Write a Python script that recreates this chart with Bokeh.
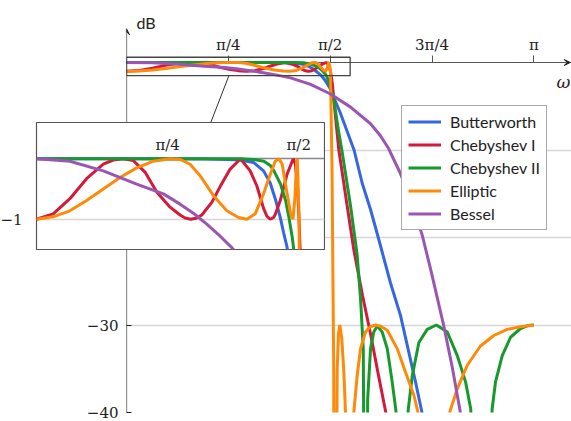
import math
from bokeh.plotting import figure
from bokeh.models import (ColumnDataSource, FixedTicker, LinearAxis, Grid, Range1d,
                          Legend, LegendItem, Label, Arrow, VeeHead)
from bokeh.layouts import column
from bokeh.embed import file_html
from bokeh.resources import INLINE

PI = math.pi

# ---------------- data ----------------
names = ["Butterworth", "Chebyshev I", "Chebyshev II", "Elliptic", "Bessel"]
colors = ["#3567e0", "#d41a3c", "#17992b", "#ff8a0a", "#9b56b2"]

butter_w = [0.0, 0.5, 1.0, 1.15, 1.22, 1.30, 1.36, 1.40, 1.43, 1.46, 1.48, 1.50, 1.53,
            1.571, 1.61, 1.65, 1.70, 1.755, 1.818, 1.882, 1.938, 2.036, 2.113, 2.229, 2.30]
butter_db = [0.0, 0.0, -0.002, -0.01, -0.02, -0.06, -0.2, -0.4, -0.66, -0.97, -1.22, -1.45, -2.0,
             -3.0, -4.4, -5.8, -7.8, -10.0, -13.8, -16.8, -19.8, -25.2, -28.9, -36.5, -41.5]

cheb1_w = [0.0, 0.1, 0.2, 0.3, 0.4, 0.46, 0.52, 0.58, 0.65, 0.72, 0.8, 0.86, 0.89, 0.925, 0.96,
           0.99, 1.05, 1.10, 1.16, 1.222, 1.28, 1.32, 1.36, 1.38, 1.40, 1.42, 1.43, 1.46, 1.50,
           1.538, 1.550, 1.562, 1.572, 1.578, 1.587, 1.612, 1.6375, 1.70, 1.753, 1.82, 1.882,
           1.94, 2.0, 2.02]
cheb1_db = [-1.0, -0.91, -0.66, -0.33, -0.09, -0.02, 0.0, -0.03, -0.22, -0.55, -0.80, -0.93,
            -0.98, -1.0, -0.98, -0.93, -0.72, -0.46, -0.17, 0.0, -0.2, -0.45, -0.82, -0.95,
            -1.0, -0.97, -0.92, -0.69, -0.26, 0.0, -0.08, -0.42, -0.97, -1.43, -2.4, -6.2,
            -10.0, -16.2, -21.4, -26.6, -31.0, -35.5, -40.0, -41.5]

cheb2_w = [0.0, 0.8, 1.1, 1.22, 1.30, 1.362, 1.40, 1.422, 1.462, 1.492, 1.512, 1.532, 1.545,
           1.56, 1.599, 1.638, 1.664, 1.728, 1.779, 1.805, 1.826, 1.845, 1.86, 1.882, 1.907,
           1.934, 1.972, 2.011, 2.049, 2.078, 2.127, 2.172, 2.204, 2.255, 2.319, 2.39, 2.474,
           2.551, 2.615, 2.655, 2.74, 2.82, 2.846, 2.898, 2.962, 3.039, 3.10, 3.1416]
cheb2_db = [0.0, 0.0, 0.0, 0.0, -0.01, -0.04, -0.11, -0.2, -0.42, -0.69, -0.97, -1.3, -1.6,
            -2.2, -4.3, -8.1, -10.3, -16.4, -22.0, -27.0, -32.7, -80.0, -38.5, -32.7, -30.8,
            -30.1, -30.8, -32.7, -36.5, -39.8, -80.0, -39.8, -35.8, -32.0, -30.5, -30.0, -30.8,
            -33.5, -36.5, -39.6, -80.0, -39.6, -36.5, -33.5, -31.4, -30.4, -30.05, -30.0]

ellip_w = [0.0, 0.1, 0.2, 0.3, 0.4, 0.5, 0.6, 0.7, 0.8, 0.86, 0.92, 0.98, 1.06, 1.14, 1.21,
           1.26, 1.31, 1.36, 1.40, 1.43, 1.452, 1.472, 1.498, 1.522, 1.536, 1.548, 1.558,
           1.562, 1.567, 1.573, 1.585, 1.598, 1.607, 1.625, 1.635, 1.645, 1.66, 1.675, 1.689,
           1.72, 1.753, 1.779, 1.805, 1.843, 1.88, 1.921, 1.96, 2.011, 2.088, 2.152, 2.216,
           2.247, 2.37, 2.494, 2.551, 2.628, 2.73, 2.833, 2.936, 3.039, 3.1416]
ellip_db = [-1.0, -0.96, -0.86, -0.69, -0.50, -0.31, -0.15, -0.04, 0.0, -0.01, -0.09, -0.28,
            -0.61, -0.86, -0.97, -1.0, -0.91, -0.58, -0.26, -0.04, 0.0, -0.09, -0.53, -0.91,
            -1.0, -0.64, -0.04, 0.0, -0.42, -1.0, -12.0, -35.0, -80.0, -35.0, -31.0, -30.0,
            -31.5, -35.0, -40.0, -80.0, -40.0, -35.8, -32.7, -30.8, -30.2, -30.0, -30.15,
            -30.6, -32.7, -35.4, -38.0, -39.9, -80.0, -39.9, -37.3, -34.6, -32.4, -31.2,
            -30.5, -30.2, -30.0]

bessel_w = [0.0, 0.2, 0.4, 0.6, 0.76, 0.86, 0.94, 1.02, 1.10, 1.17, 1.265, 1.42, 1.573, 1.728,
            1.882, 1.96, 2.02, 2.11, 2.20, 2.28, 2.35, 2.447, 2.512, 2.575, 2.60]
bessel_db = [0.0, -0.04, -0.2, -0.42, -0.58, -0.75, -0.9, -1.08, -1.28, -1.47, -1.76, -2.5,
             -3.6, -5.1, -7.0, -8.4, -9.8, -12.6, -16.0, -19.7, -23.9, -30.1, -34.8, -40.0,
             -42.0]

x_ticks = [PI / 4, PI / 2, 3 * PI / 4, PI]
x_tick_labels = ["π/4", "π/2", "3π/4", "π"]
y_ticks = [-40, -30, -20, -10]
y_tick_labels = ["−40", "−30", "−20", "−10"]
inset_x_ticks = [PI / 4, PI / 2]
inset_x_tick_labels = ["π/4", "π/2"]
inset_y_ticks = [-1]
inset_y_tick_labels = ["−1"]

# ---------------- view settings ----------------
X_MAX = 3.432
Y_MIN = -40.0
ZERO_PX, BOTTOM_PX = 62.0, 412.0
Y_MAX = ZERO_PX * 40.0 / (BOTTOM_PX - ZERO_PX)
Y_ARROW_TOP = 3.86
ZOOM_X = (0.0, 1.725)
ZOOM_Y = (-1.5, 0.6)
SERIF = "DejaVu Serif"
SANS = "Lato"
AX = "#555555"
TXT = "#222222"
GRID = "#d6d6d6"
TICK_SIZE = "15px"
INSET_BORDER_LEFT = 60
INSET_FRAME_LEFT = 36

series = [
    (names[0], butter_w, butter_db, colors[0]),
    (names[1], cheb1_w, cheb1_db, colors[1]),
    (names[2], cheb2_w, cheb2_db, colors[2]),
    (names[3], ellip_w, ellip_db, colors[3]),
    (names[4], bessel_w, bessel_db, colors[4]),
]
sources = [ColumnDataSource(dict(w=w, db=d)) for _, w, d, _ in series]

# ---------------- main plot ----------------
p = figure(width=571, height=421, output_backend="svg", toolbar_location=None,
           x_axis_type=None, y_axis_type=None,
           x_range=Range1d(0, X_MAX), y_range=Range1d(Y_MIN, Y_MAX),
           min_border_left=126, min_border_right=0, min_border_top=0,
           min_border_bottom=int(421 - BOTTOM_PX))
p.outline_line_color = None
p.background_fill_color = "white"
p.border_fill_color = "white"

p.add_layout(Grid(dimension=1, ticker=FixedTicker(ticks=y_ticks),
                  grid_line_color=GRID, grid_line_width=1.3))

yax = LinearAxis(ticker=FixedTicker(ticks=y_ticks),
                 major_label_overrides=dict(zip(y_ticks, y_tick_labels)),
                 axis_line_color=None, major_tick_in=5, major_tick_out=0,
                 major_tick_line_color=TXT, minor_tick_line_color=None,
                 major_label_standoff=8, major_label_text_font=SERIF,
                 major_label_text_font_size=TICK_SIZE, major_label_text_color=TXT)
p.add_layout(yax, "left")

xax = LinearAxis(fixed_location=0, ticker=FixedTicker(ticks=x_ticks),
                 major_label_overrides=dict(zip(x_ticks, x_tick_labels)),
                 axis_line_color=AX, axis_line_width=1, major_tick_in=0, major_tick_out=7,
                 major_tick_line_color=AX, minor_tick_line_color=None,
                 major_label_standoff=2, major_label_text_font=SERIF,
                 major_label_text_font_size=TICK_SIZE, major_label_text_color=TXT)
xax.level = "underlay"
p.add_layout(xax, "above")

p.add_layout(Arrow(x_start=0, y_start=Y_MIN, x_end=0, y_end=Y_ARROW_TOP,
                   line_color=TXT, line_width=1.2,
                   end=VeeHead(size=6, line_color=TXT, fill_color=TXT, line_width=1)))
p.add_layout(Arrow(x_start=3.0, y_start=0, x_end=X_MAX - 0.01, y_end=0,
                   line_color=AX, line_width=1,
                   end=VeeHead(size=6, line_color=TXT, fill_color=TXT, line_width=1)))

renderers = []
for (name, w, d, c), src in zip(series, sources):
    renderers.append(p.line("w", "db", source=src, line_width=3, line_color=c))

p.quad(left=[ZOOM_X[0]], right=[ZOOM_X[1]], bottom=[ZOOM_Y[0]], top=[ZOOM_Y[1]],
       fill_color=None, line_color="#444444", line_width=1.3)
p.segment(x0=[0.79], y0=[ZOOM_Y[0]], x1=[0.62], y1=[-8.0], line_color="#333333", line_width=1)

p.add_layout(Label(x=0.077, y=4.55, text="dB", text_font=SANS, text_font_size="16px",
                   text_color=TXT, text_baseline="alphabetic"))
p.add_layout(Label(x=3.37, y=-2.2, text="ω", text_font=SERIF, text_font_style="italic",
                   text_font_size="17px", text_color=TXT, text_align="center",
                   text_baseline="middle"))

legend = Legend(items=[LegendItem(label=n, renderers=[r]) for n, r in zip(names, renderers)],
                location=(275, int(BOTTOM_PX - 230)), orientation="vertical",
                border_line_color="#555555", border_line_width=1,
                background_fill_color="white", background_fill_alpha=1,
                label_text_font=SANS, label_text_font_size="16px", label_text_color=TXT,
                glyph_width=33, glyph_height=19, label_height=19, spacing=4,
                padding=6, margin=0, label_standoff=9)
p.add_layout(legend)

# ---------------- inset (zoom of the passband) ----------------
ins = figure(width=INSET_BORDER_LEFT + 288 + 1, height=129, output_backend="svg",
             toolbar_location=None, x_axis_type=None, y_axis_type=None,
             x_range=Range1d(*ZOOM_X), y_range=Range1d(*ZOOM_Y),
             min_border_left=INSET_BORDER_LEFT, min_border_right=1, min_border_top=1,
             min_border_bottom=1)
ins.outline_line_color = "#555555"
ins.outline_line_width = 1.2
ins.background_fill_color = "white"
ins.border_fill_color = None

ins.add_layout(Grid(dimension=1, ticker=FixedTicker(ticks=inset_y_ticks),
                    grid_line_color=GRID, grid_line_width=1.3))
iy = LinearAxis(ticker=FixedTicker(ticks=inset_y_ticks),
                major_label_overrides=dict(zip(inset_y_ticks, inset_y_tick_labels)),
                axis_line_color=None, major_tick_line_color=None, minor_tick_line_color=None,
                major_label_standoff=8, major_label_text_font=SERIF,
                major_label_text_font_size=TICK_SIZE, major_label_text_color=TXT)
ins.add_layout(iy, "left")
ix = LinearAxis(fixed_location=0, ticker=FixedTicker(ticks=inset_x_ticks),
                major_label_overrides=dict(zip(inset_x_ticks, inset_x_tick_labels)),
                axis_line_color="#888888", axis_line_width=1.3, major_tick_line_color=None,
                major_tick_in=0, major_tick_out=0, minor_tick_line_color=None,
                major_label_standoff=5, major_label_text_font=SERIF,
                major_label_text_font_size=TICK_SIZE, major_label_text_color=TXT)
ix.level = "underlay"
ins.add_layout(ix, "above")

for (name, w, d, c), src in zip(series, sources):
    ins.line("w", "db", source=src, line_width=3, line_color=c)

inset_box = column(ins, styles={"position": "absolute",
                                "left": f"{INSET_FRAME_LEFT - INSET_BORDER_LEFT}px",
                                "top": "121px", "z-index": "5"})
layout = column(p, inset_box)
open("out.html", "w").write(file_html(layout, INLINE))
